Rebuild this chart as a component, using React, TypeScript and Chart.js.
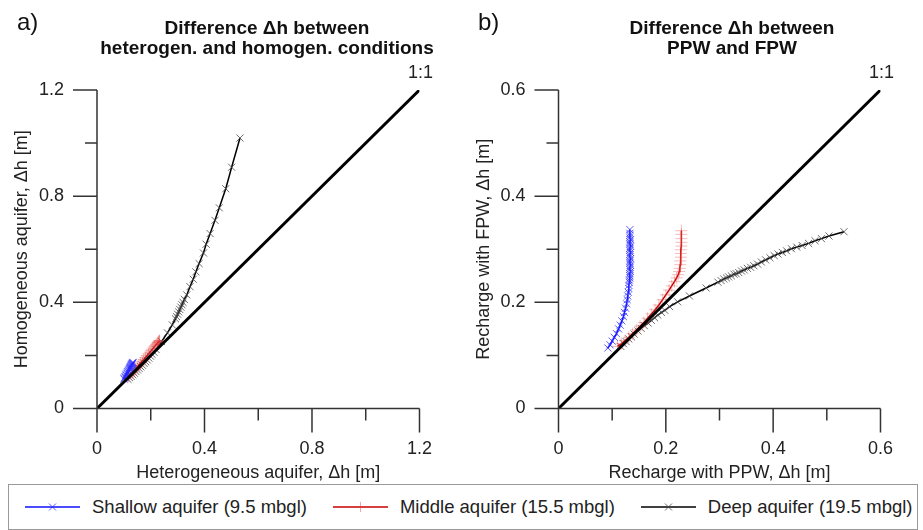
import React, { useEffect, useRef } from 'react';
import { Chart, registerables } from 'chart.js';

Chart.register(...registerables);

const FONT = '"Liberation Sans", Arial, Helvetica, sans-serif';

// ---------- Panel a) heterogeneous (x) vs homogeneous (y) ----------
const shallowA_x = [0.100, 0.102, 0.104, 0.106, 0.108, 0.110, 0.112, 0.114, 0.115, 0.117, 0.118, 0.120, 0.121, 0.122, 0.123, 0.124, 0.125, 0.126, 0.127, 0.128, 0.129, 0.130, 0.131, 0.132, 0.133, 0.134];
const shallowA_y = [0.111, 0.115, 0.119, 0.122, 0.126, 0.130, 0.133, 0.137, 0.139, 0.142, 0.144, 0.147, 0.149, 0.151, 0.153, 0.155, 0.157, 0.159, 0.161, 0.163, 0.165, 0.167, 0.169, 0.170, 0.172, 0.174];

const middleA_x = [0.115, 0.120, 0.126, 0.132, 0.138, 0.144, 0.150, 0.156, 0.162, 0.168, 0.174, 0.180, 0.186, 0.192, 0.197, 0.202, 0.206, 0.210, 0.214, 0.217, 0.220, 0.223, 0.225, 0.227, 0.229, 0.231, 0.232, 0.233];
const middleA_y = [0.118, 0.123, 0.129, 0.136, 0.143, 0.150, 0.157, 0.164, 0.171, 0.178, 0.185, 0.192, 0.199, 0.206, 0.212, 0.218, 0.223, 0.228, 0.233, 0.237, 0.241, 0.244, 0.247, 0.249, 0.251, 0.253, 0.255, 0.256];

const deepA_x = [0.115, 0.121, 0.127, 0.133, 0.139, 0.145, 0.151, 0.157, 0.163, 0.169, 0.175, 0.181, 0.187, 0.193, 0.199, 0.205, 0.212, 0.220, 0.240, 0.262, 0.280, 0.292, 0.296, 0.300, 0.304, 0.308, 0.312, 0.316, 0.320, 0.325, 0.334, 0.346, 0.358, 0.368, 0.380, 0.396, 0.406, 0.421, 0.439, 0.455, 0.479, 0.501, 0.532];
const deepA_y = [0.110, 0.116, 0.121, 0.127, 0.133, 0.139, 0.145, 0.151, 0.157, 0.163, 0.170, 0.176, 0.183, 0.190, 0.197, 0.204, 0.212, 0.222, 0.252, 0.285, 0.315, 0.338, 0.346, 0.355, 0.364, 0.373, 0.382, 0.391, 0.400, 0.411, 0.428, 0.459, 0.487, 0.515, 0.546, 0.586, 0.619, 0.659, 0.709, 0.756, 0.828, 0.909, 1.019];

// ---------- Panel b) PPW (x) vs FPW (y) ----------
const shallowB_x = [0.092, 0.096, 0.100, 0.104, 0.108, 0.112, 0.115, 0.118, 0.121, 0.123, 0.125, 0.127, 0.128, 0.129, 0.130, 0.131, 0.131, 0.132, 0.132, 0.133, 0.133, 0.133, 0.134, 0.133, 0.133, 0.134, 0.133, 0.133, 0.134, 0.133, 0.133, 0.134, 0.133, 0.133, 0.134, 0.133, 0.133, 0.134, 0.133, 0.133, 0.133, 0.133];
const shallowB_y = [0.114, 0.120, 0.127, 0.134, 0.141, 0.150, 0.157, 0.165, 0.173, 0.181, 0.189, 0.197, 0.205, 0.212, 0.219, 0.226, 0.232, 0.238, 0.242, 0.246, 0.250, 0.254, 0.258, 0.262, 0.266, 0.270, 0.274, 0.278, 0.282, 0.286, 0.290, 0.294, 0.298, 0.302, 0.306, 0.310, 0.314, 0.318, 0.322, 0.326, 0.330, 0.337];

const middleB_x = [0.110, 0.117, 0.124, 0.131, 0.138, 0.145, 0.152, 0.159, 0.166, 0.173, 0.180, 0.187, 0.194, 0.200, 0.206, 0.211, 0.216, 0.220, 0.223, 0.225, 0.226, 0.227, 0.227, 0.228, 0.228, 0.228, 0.229, 0.229, 0.229, 0.229, 0.229];
const middleB_y = [0.117, 0.122, 0.128, 0.134, 0.141, 0.148, 0.155, 0.162, 0.170, 0.178, 0.186, 0.195, 0.205, 0.214, 0.223, 0.231, 0.239, 0.246, 0.252, 0.258, 0.264, 0.271, 0.278, 0.285, 0.292, 0.299, 0.306, 0.313, 0.320, 0.328, 0.335];

const deepB_x = [0.116, 0.121, 0.126, 0.131, 0.136, 0.141, 0.148, 0.154, 0.160, 0.167, 0.173, 0.179, 0.185, 0.192, 0.198, 0.207, 0.222, 0.244, 0.275, 0.297, 0.303, 0.308, 0.313, 0.317, 0.322, 0.327, 0.331, 0.336, 0.341, 0.346, 0.352, 0.358, 0.364, 0.371, 0.378, 0.386, 0.394, 0.402, 0.409, 0.417, 0.425, 0.434, 0.444, 0.454, 0.466, 0.478, 0.490, 0.504, 0.532];
const deepB_y = [0.117, 0.122, 0.126, 0.131, 0.135, 0.140, 0.146, 0.151, 0.156, 0.161, 0.166, 0.171, 0.176, 0.181, 0.185, 0.192, 0.201, 0.212, 0.227, 0.238, 0.241, 0.244, 0.246, 0.248, 0.250, 0.253, 0.254, 0.256, 0.259, 0.261, 0.264, 0.266, 0.269, 0.272, 0.276, 0.280, 0.284, 0.288, 0.291, 0.294, 0.297, 0.301, 0.304, 0.307, 0.311, 0.316, 0.320, 0.325, 0.333];

const seriesNames = ['Shallow aquifer (9.5 mbgl)', 'Middle aquifer (15.5 mbgl)', 'Deep aquifer (19.5 mbgl)'];
const panelTitles = [['Difference \u0394h between', 'heterogen. and homogen. conditions'], ['Difference \u0394h between', 'PPW and FPW']];
const panelLetters = ['a)', 'b)'];
const xTitles = ['Heterogeneous aquifer, \u0394h [m]', 'Recharge with PPW, \u0394h [m]'];
const yTitles = ['Homogeneous aquifer, \u0394h [m]', 'Recharge with FPW, \u0394h [m]'];
const axisMax = [1.2, 0.6];
const minorStep = [0.2, 0.1];
const majorStep = [0.4, 0.2];
const oneToOneLabel = '1:1';

const pts = (xs: number[], ys: number[]) => xs.map((x, i) => ({ x, y: ys[i] }));

const axisPlugin = {
  id: 'axisTicks',
  afterDraw(chart: any, _a: any, opts: any) {
    const { ctx, chartArea: a } = chart;
    const xs = chart.scales.x;
    const ys = chart.scales.y;
    ctx.save();
    ctx.strokeStyle = '#333';
    ctx.lineWidth = 1.5;
    ctx.beginPath();
    ctx.moveTo(a.left, a.top);
    ctx.lineTo(a.left, a.bottom);
    ctx.lineTo(a.right, a.bottom);
    for (const t of xs.ticks) {
      const p = xs.getPixelForValue(t.value);
      const len = t.label ? 24 : 12;
      ctx.moveTo(p, a.bottom);
      ctx.lineTo(p, a.bottom + len);
    }
    for (const t of ys.ticks) {
      const p = ys.getPixelForValue(t.value);
      const len = t.label ? 24 : 12;
      ctx.moveTo(a.left, p);
      ctx.lineTo(a.left - len, p);
    }
    ctx.stroke();
    ctx.fillStyle = '#222';
    ctx.font = `18px ${FONT}`;
    ctx.textAlign = 'center';
    ctx.textBaseline = 'middle';
    ctx.fillText(opts.text, xs.getPixelForValue(opts.at) + 1, ys.getPixelForValue(opts.at) - 17);
    ctx.restore();
  },
};

function Panel({ idx, left, width, height, areaLeft, areaRight, areaTop, areaBottom, series }: any) {
  const ref = useRef<HTMLCanvasElement>(null);
  useEffect(() => {
    const max = axisMax[idx];
    const major = majorStep[idx];
    const fmt = (v: number) => {
      const r = v / major;
      return Math.abs(r - Math.round(r)) < 1e-6 ? String(Math.round(v * 10) / 10) : '';
    };
    const tickFont = { family: FONT, size: 18 };
    const chart = new Chart(ref.current as HTMLCanvasElement, {
      type: 'scatter',
      data: {
        datasets: [
          {
            data: [{ x: 0, y: 0 }, { x: max, y: max }],
            showLine: true,
            borderColor: '#000',
            borderWidth: 3,
            pointRadius: 0,
          },
          {
            data: series[0],
            showLine: true,
            borderColor: '#1010ff',
            borderWidth: 1.5,
            pointStyle: 'crossRot',
            pointRadius: 5,
            pointBorderWidth: 1,
            pointBorderColor: 'rgba(40,40,255,0.75)',
          },
          {
            data: series[1],
            showLine: true,
            borderColor: '#c80000',
            borderWidth: 1.5,
            pointStyle: 'cross',
            pointRadius: 6,
            pointBorderWidth: 1,
            pointBorderColor: 'rgba(225,60,60,0.35)',
          },
          {
            data: series[2],
            showLine: true,
            borderColor: '#000',
            borderWidth: 1.5,
            pointStyle: 'crossRot',
            pointRadius: 5,
            pointBorderWidth: 1,
            pointBorderColor: 'rgba(70,70,70,0.8)',
          },
        ],
      } as any,
      options: {
        animation: false,
        responsive: false,
        maintainAspectRatio: false,
        events: [],
        layout: { padding: { left: 0, top: areaTop, right: width - areaRight, bottom: 0 } },
        plugins: {
          legend: { display: false },
          tooltip: { enabled: false },
          axisTicks: { text: oneToOneLabel, at: max },
        } as any,
        scales: {
          x: {
            type: 'linear',
            min: 0,
            max,
            grid: { display: false, drawTicks: false },
            border: { display: false },
            ticks: { stepSize: minorStep[idx], autoSkip: false, maxRotation: 0, padding: 30, color: '#222', font: tickFont, callback: (v: any) => fmt(Number(v)) },
            title: { display: true, text: xTitles[idx], color: '#222', font: tickFont, padding: { top: 0, bottom: 0 } },
            afterFit: (s: any) => { s.height = height - areaBottom; },
          },
          y: {
            type: 'linear',
            min: 0,
            max,
            grid: { display: false, drawTicks: false },
            border: { display: false },
            ticks: { stepSize: minorStep[idx], autoSkip: false, padding: 33, color: '#222', font: tickFont, callback: (v: any) => fmt(Number(v)) },
            title: { display: true, text: yTitles[idx], color: '#222', font: tickFont, padding: { top: 11, bottom: 0 } },
            afterFit: (s: any) => { s.width = areaLeft; },
          },
        },
      } as any,
      plugins: [axisPlugin],
    });
    return () => chart.destroy();
  }, []);
  return (
    <canvas
      ref={ref}
      width={width}
      height={height}
      style={{ position: 'absolute', left, top: 0, width, height }}
    />
  );
}

function Marker({ kind, color }: { kind: string; color: string }) {
  if (kind === 'cross') {
    return <path d="M27.5 1 V11 M22.5 6 H32.5" stroke={color} strokeWidth={1} />;
  }
  return <path d="M24 2.5 L31 9.5 M31 2.5 L24 9.5" stroke={color} strokeWidth={1} />;
}

const legendStyles = [
  { line: '#1010ff', mark: 'rgba(40,40,255,0.75)', kind: 'crossRot' },
  { line: '#c80000', mark: 'rgba(225,60,60,0.45)', kind: 'cross' },
  { line: '#000', mark: 'rgba(70,70,70,0.8)', kind: 'crossRot' },
];

export default function App() {
  const seriesA = [pts(shallowA_x, shallowA_y), pts(middleA_x, middleA_y), pts(deepA_x, deepA_y)];
  const seriesB = [pts(shallowB_x, shallowB_y), pts(middleB_x, middleB_y), pts(deepB_x, deepB_y)];
  const titleStyle: any = { position: 'absolute', top: 18, width: 420, textAlign: 'center', font: `bold 19px ${FONT}`, lineHeight: '20px', color: '#111' };
  const letterStyle: any = { position: 'absolute', top: 8, font: `24px ${FONT}`, lineHeight: '28px', color: '#111' };
  return (
    <div style={{ position: 'absolute', left: 0, top: 0, width: 923, height: 530, background: '#fff', overflow: 'hidden', fontFamily: FONT }}>
      <Panel idx={0} left={0} width={462} height={484} areaLeft={97} areaRight={419.6} areaTop={90} areaBottom={408.5} series={seriesA} />
      <Panel idx={1} left={462} width={461} height={484} areaLeft={96.5} areaRight={420} areaTop={90} areaBottom={408.5} series={seriesB} />
      <div style={{ ...letterStyle, left: 17 }}>{panelLetters[0]}</div>
      <div style={{ ...letterStyle, left: 478 }}>{panelLetters[1]}</div>
      <div style={{ ...titleStyle, left: 267 - 210 }}>{panelTitles[0][0]}<br />{panelTitles[0][1]}</div>
      <div style={{ ...titleStyle, left: 732 - 210 }}>{panelTitles[1][0]}<br />{panelTitles[1][1]}</div>
      <div style={{ position: 'absolute', left: 8, top: 484, width: 910, height: 46, border: '1px solid #999', boxSizing: 'border-box', display: 'flex', alignItems: 'center', paddingLeft: 16, gap: 0 }}>
        {seriesNames.map((name, i) => (
          <div key={name} style={{ display: 'flex', alignItems: 'center', marginRight: 26 }}>
            <svg width={55} height={12} style={{ marginRight: 12 }}>
              <line x1={0} y1={6} x2={55} y2={6} stroke={legendStyles[i].line} strokeWidth={1.5} />
              <Marker kind={legendStyles[i].kind} color={legendStyles[i].mark} />
            </svg>
            <span style={{ font: `18.5px ${FONT}`, color: '#222', whiteSpace: 'nowrap' }}>{name}</span>
          </div>
        ))}
      </div>
    </div>
  );
}
